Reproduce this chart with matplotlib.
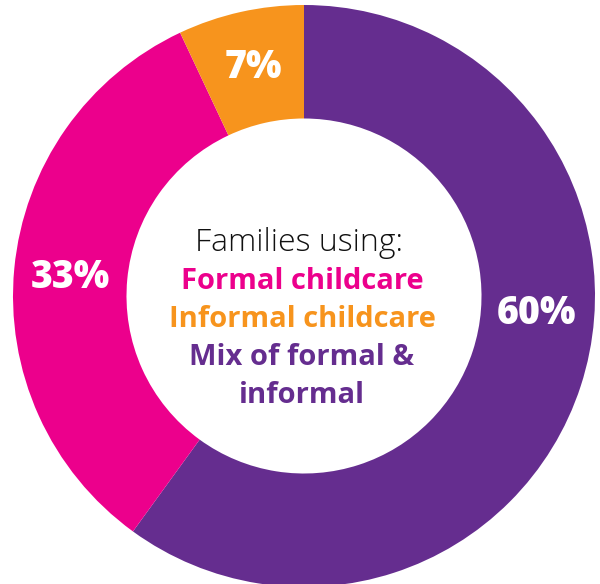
import matplotlib.pyplot as plt

categories = ["Mix of formal & informal", "Formal childcare", "Informal childcare"]
values = [60, 33, 7]
colors = ["#652d8f", "#ec008c", "#f7941d"]
center_lines = ["Families using:", "Formal childcare", "Informal childcare",
                "Mix of formal &", "informal"]
line_colors = ["#111111", colors[1], colors[2], colors[0], colors[0]]

fig = plt.figure(figsize=(6, 5.84), dpi=100)
ax = fig.add_axes([0, 0, 1, 1])

cx, cy, R = 304, 288, 291
wedges, texts, autotexts = ax.pie(values, colors=colors, startangle=90, counterclock=False,
                                  center=(cx, cy), radius=R, frame=True,
                                  autopct=lambda p: "%d%%" % round(p), pctdistance=0.805,
                                  wedgeprops=dict(width=R * 0.39, linewidth=0))
ax.set_xlim(0, 600)
ax.set_ylim(0, 584)
ax.set_aspect("equal")
ax.axis("off")

for t in autotexts:
    t.set_color("white")
    t.set_fontsize(27)
    t.set_fontweight("heavy")
    t.set_family("Open Sans")
# the 60% label sits higher up in the purple ring
autotexts[0].set_position((537, 584 - 314))
autotexts[1].set_position((70, 584 - 278))

font = "Open Sans"
baseline = 584 - 251
for i, (line, col) in enumerate(zip(center_lines, line_colors)):
    if i == 0:
        ax.text(299, baseline, line, ha="center", va="baseline", fontsize=23,
                family=font, fontweight="light", color=col)
    else:
        ax.text(302, baseline - 38 * i, line, ha="center", va="baseline", fontsize=21,
                family=font, fontweight="bold", color=col)

fig.savefig("out.png", dpi=100)
